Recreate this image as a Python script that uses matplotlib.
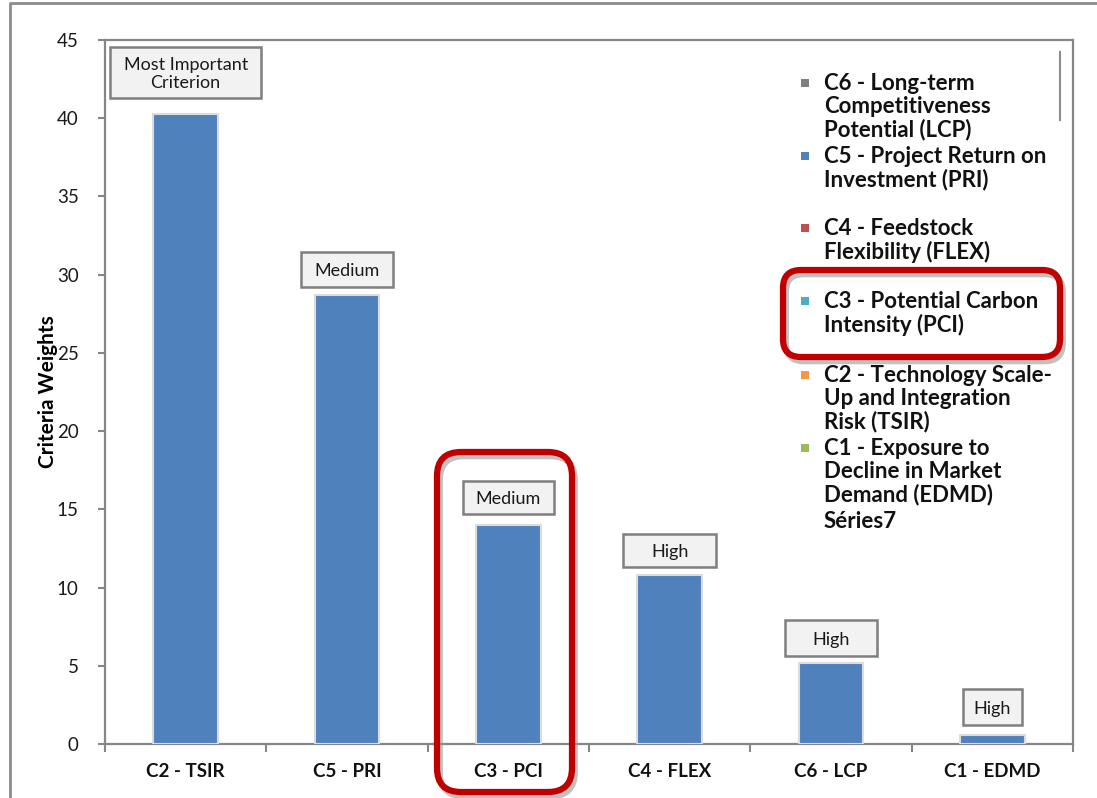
import matplotlib
matplotlib.use("Agg")
import matplotlib.pyplot as plt
from matplotlib.patches import Rectangle, FancyBboxPatch
from matplotlib.lines import Line2D
from matplotlib.transforms import IdentityTransform
import matplotlib.patheffects as pe

plt.rcParams['font.family'] = ['Lato', 'DejaVu Sans']

# ---- data ----
categories = ["C2 - TSIR", "C5 - PRI", "C3 - PCI", "C4 - FLEX", "C6 - LCP", "C1 - EDMD"]
weights = [40.3, 28.7, 14.0, 10.8, 5.2, 0.6]
importance = ["Most Important\nCriterion", "Medium", "Medium", "High", "High", "High"]
yticks = [0, 5, 10, 15, 20, 25, 30, 35, 40, 45]

legend_labels = [
    "C6 - Long-term\nCompetitiveness\nPotential (LCP)",
    "C5 - Project Return on\nInvestment (PRI)",
    "C4 - Feedstock\nFlexibility (FLEX)",
    "C3 - Potential Carbon\nIntensity (PCI)",
    "C2 - Technology Scale-\nUp and Integration\nRisk (TSIR)",
    "C1 - Exposure to\nDecline in Market\nDemand (EDMD)",
    "Séries7",
]
legend_colors = ["#7F7F7F", "#4F81BD", "#C0504D", "#4BACC6", "#F79646", "#9BBB59", None]

W, H = 1097, 798
fig = plt.figure(figsize=(W / 100, H / 100), dpi=100)
fig.patch.set_facecolor("white")


def fy(y):
    """top-down pixel row -> display y"""
    return H - y


ax = fig.add_axes([105 / W, (H - 744) / H, (1073 - 105) / W, (744 - 40) / H])
x = list(range(len(categories)))
bar_color = "#4F81BD"
ax.bar(x, weights, width=0.40, color=bar_color, edgecolor="#DCDCDC", linewidth=1.5, zorder=3)

ax.set_xlim(-0.5, len(categories) - 0.5)
ax.set_ylim(0, 45)
ax.set_yticks(yticks)
ax.set_yticklabels([str(t) for t in yticks], fontsize=13.5, color="#1a1a1a")
ax.set_xticks(x)
ax.set_xticklabels(categories, fontsize=13.5, fontweight="bold", color="#111111")
ax.tick_params(axis="x", length=0, pad=14)
ax.tick_params(axis="y", length=5, width=1.5, color="#868686", pad=14, direction="out")
# category boundary ticks below the x axis
ax.set_xticks([i - 0.5 for i in range(len(categories) + 1)], minor=True)
ax.tick_params(axis="x", which="minor", length=6, width=1.5, color="#868686", direction="out")
for s in ax.spines.values():
    s.set_color("#868686")
    s.set_linewidth(1.6)
ax.set_ylabel("Criteria Weights", fontsize=15, fontweight="bold")
ax.yaxis.set_label_coords(-0.049, 0.5)

# importance labels above bars
box_w = [0.935, 0.565, 0.56, 0.575, 0.57, 0.365]
box_h = [3.27, 2.24, 2.1, 2.15, 2.3, 2.3]
box_gap = [1.0, 0.5, 0.7, 0.5, 0.4, 0.6]
for i, (v, lab) in enumerate(zip(weights, importance)):
    y0 = v + box_gap[i]
    ax.add_patch(Rectangle((i - box_w[i] / 2, y0), box_w[i], box_h[i],
                           facecolor="#F2F2F2", edgecolor="#7F7F7F", linewidth=1.8,
                           zorder=4, clip_on=False))
    ax.text(i, y0 + box_h[i] / 2 - 0.1, lab, ha="center", va="center", fontsize=13,
            color="#1a1a1a", zorder=5, linespacing=1.15)

# legend entries
legend_rows = [83, 156, 228, 301, 375, 448, 521]
for lab, col, row in zip(legend_labels, legend_colors, legend_rows):
    fig.text(824 / W, 1 - (row - 10) / H, lab, ha="left", va="top", fontsize=16,
             fontweight="bold", color="#111111", linespacing=1.1)
    if col is not None:
        fig.patches.append(Rectangle((801, fy(row) - 4), 8, 8, facecolor=col,
                                     edgecolor="none", transform=IdentityTransform(),
                                     figure=fig))

# partial legend frame edge
fig.lines.append(Line2D([1060, 1060], [fy(52), fy(120)], color="#8C8C8C", linewidth=1.5,
                        transform=IdentityTransform(), figure=fig))

# outer chart frame
fig.lines.append(Line2D([10, 10, W + 5], [-5, fy(3), fy(3)], color="#8C8C8C",
                        linewidth=2, transform=IdentityTransform(), figure=fig))

# red highlight boxes
shadow = [pe.SimpleLineShadow(offset=(2, -3), shadow_color="#999999", alpha=0.6), pe.Normal()]
for (x0, y0, x1, y1, r) in [(437, 452, 572, 792, 24), (783, 270, 1060, 357, 18)]:
    p = FancyBboxPatch((x0, fy(y1)), x1 - x0, y1 - y0,
                       boxstyle=f"round,pad=0,rounding_size={r}",
                       facecolor="none", edgecolor="#C00000", linewidth=4.5,
                       transform=IdentityTransform(), figure=fig, zorder=10)
    p.set_path_effects(shadow)
    fig.patches.append(p)

fig.savefig("out.png", dpi=100)
